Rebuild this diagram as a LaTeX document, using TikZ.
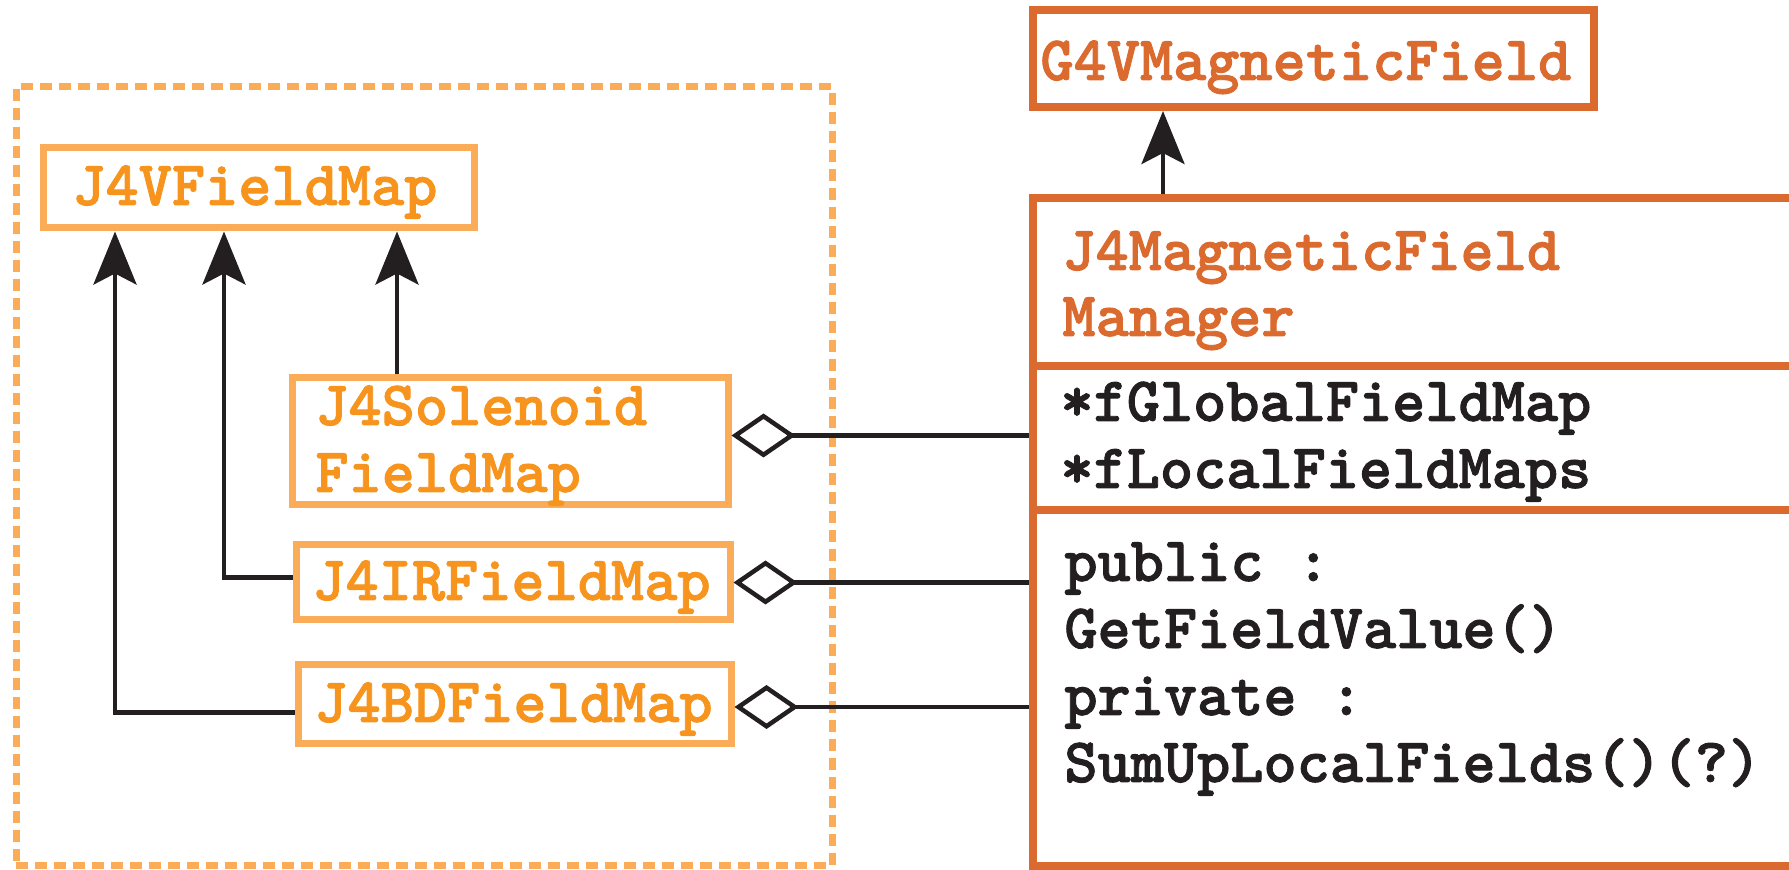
\documentclass[tikz,border=0pt]{standalone}
\usepackage{fontspec}
\newfontfamily\codefont{lmmonolt10-bold.otf}[FakeBold=1.4]
\usetikzlibrary{arrows.meta}

\definecolor{pkgorange}{HTML}{FAAC58}
\definecolor{maporange}{HTML}{F7941D}
\definecolor{mgrorange}{HTML}{DB6A2E}
\definecolor{ink}{HTML}{231F20}

\tikzset{
  code/.style={font=\fontsize{31.6pt}{33.5pt}\selectfont\codefont, inner sep=0pt, anchor=base west},
  mapbox/.style={draw=pkgorange, line width=3.5pt, rectangle, inner sep=0pt},
  mgrbox/.style={draw=mgrorange, line width=4pt, rectangle, inner sep=0pt},
  pkgframe/.style={draw=pkgorange, line width=3.5pt, dash pattern=on 6pt off 3.5pt, rectangle, inner sep=0pt},
  inherit/.style={draw=ink, line width=2.25pt, -{Stealth[length=26.5pt, width=21.5pt, inset=5.5pt]}},
  aggregate/.style={draw=ink, line width=2.25pt, {Diamond[open, length=32pt, width=22pt]}-},
}

\begin{document}
\begin{tikzpicture}[x=0.5pt, y=-0.5pt]
\useasboundingbox (0,0) rectangle (1789,870);
\clip (0,0) rectangle (1789,870);
\fill[white] (0,0) rectangle (1789,870);

% package frame around the field-map classes
\node[pkgframe, minimum width=408pt, minimum height=389.5pt] (pkg) at (424,476.5) {};

% field-map classes
\node[mapbox, minimum width=215.5pt, minimum height=40pt] (vmap) at (258.5,188) {};
\node[mapbox, minimum width=218pt, minimum height=63.5pt] (sol) at (510,441.5) {};
\node[mapbox, minimum width=217pt, minimum height=37.5pt] (ir) at (513,582.5) {};
\node[mapbox, minimum width=216.5pt, minimum height=39.5pt] (bd) at (514.5,704.5) {};

\node[code, text=maporange] (vmaptxt) at (72,205) {J4VFieldMap};
\node[code, text=maporange] (soltxta) at (315,425) {J4Solenoid};
\node[code, text=maporange] (soltxtb) at (315,492) {FieldMap};
\node[code, text=maporange] (irtxt) at (312,600) {J4IRFieldMap};
\node[code, text=maporange] (bdtxt) at (314,722) {J4BDFieldMap};

% Geant4 base class and the field manager
\node[mgrbox, minimum width=280.5pt, minimum height=48.5pt] (g4v) at (1313.5,58.5) {};
\node[code, text=mgrorange] (g4vtxt) at (1040,80) {G4VMagneticField};

\node[mgrbox, minimum width=433.5pt, minimum height=334pt] (mgr) at (1466.5,532) {};
\draw[draw=mgrorange, line width=4pt] (mgr.west |- 0,366) -- (mgr.east |- 0,366);
\draw[draw=mgrorange, line width=4pt] (mgr.west |- 0,510) -- (mgr.east |- 0,510);

\node[code, text=mgrorange] (mgrtxta) at (1062,270) {J4MagneticField};
\node[code, text=mgrorange] (mgrtxtb) at (1062,336) {Manager};
\node[code, text=ink] (attra) at (1060,421) {*fGlobalFieldMap};
\node[code, text=ink] (attrb) at (1060,488) {*fLocalFieldMaps};
\node[code, text=ink] (opa) at (1064,581) {public :};
\node[code, text=ink] (opb) at (1064,648) {GetFieldValue()};
\node[code, text=ink] (opc) at (1064,715) {private :};
\node[code, text=ink] (opd) at (1064,782) {SumUpLocalFields()(?)};

% attachment points of the connectors
\coordinate (solagg) at ([yshift=3pt]sol.east);
\coordinate (bdagg) at ([yshift=-1.25pt]bd.east);
\coordinate (irgen) at ([yshift=2.5pt]ir.west);
\coordinate (bdgen) at ([yshift=-4pt]bd.west);

% inheritance
\draw[inherit] (1163,0 |- mgr.north) -- (1163,0 |- g4v.south);
\draw[inherit] (397,0 |- sol.north) -- (397,0 |- vmap.south);
\draw[inherit] (irgen) -| (224,0 |- vmap.south);
\draw[inherit] (bdgen) -| (115,0 |- vmap.south);

% aggregation
\draw[aggregate] (solagg) -- (mgr.west |- solagg);
\draw[aggregate] (ir.east) -- (mgr.west |- ir.east);
\draw[aggregate] (bdagg) -- (mgr.west |- bdagg);
\end{tikzpicture}
\end{document}
